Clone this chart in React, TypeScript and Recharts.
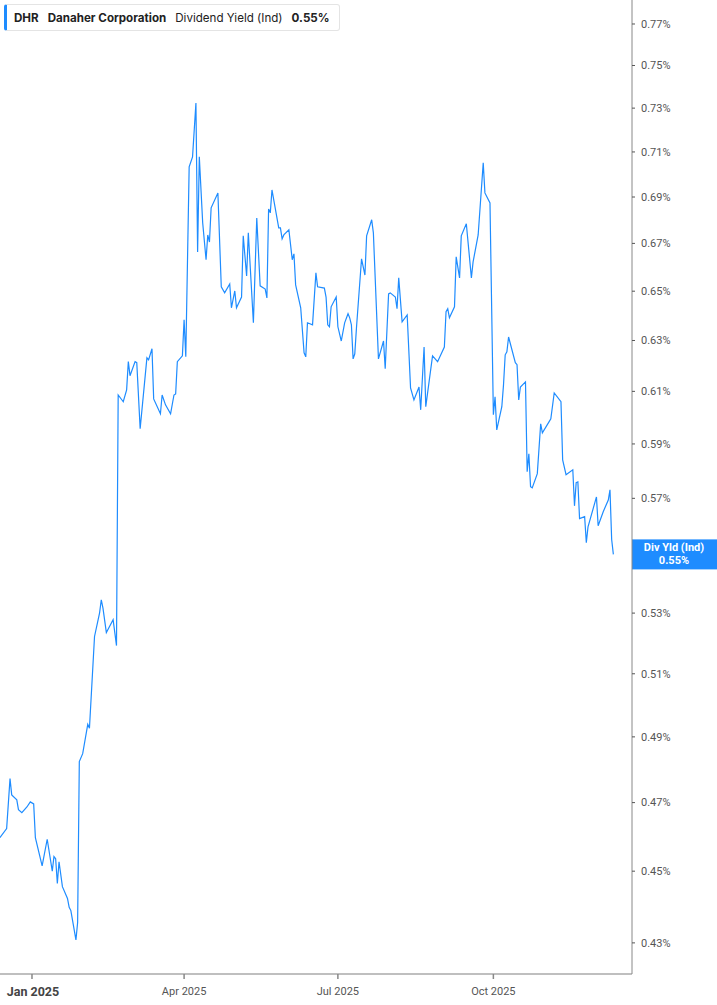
import { Line, LineChart, ReferenceLine, XAxis, YAxis } from 'recharts';

// DHR dividend yield (ind), %
const dates = [
    '2024-12-13', '2024-12-17', '2024-12-19', '2024-12-20', '2024-12-23', '2024-12-24', '2024-12-26', '2024-12-29', '2024-12-31',
    '2025-01-02', '2025-01-03', '2025-01-07', '2025-01-10', '2025-01-13', '2025-01-14', '2025-01-15', '2025-01-16', '2025-01-17',
    '2025-01-19', '2025-01-22', '2025-01-23', '2025-01-24', '2025-01-27', '2025-01-28', '2025-01-29', '2025-01-31',
    '2025-02-03', '2025-02-04', '2025-02-07', '2025-02-10', '2025-02-11', '2025-02-12', '2025-02-14', '2025-02-18', '2025-02-20',
    '2025-02-21', '2025-02-24', '2025-02-26', '2025-02-27', '2025-02-28',
    '2025-03-03', '2025-03-04', '2025-03-06', '2025-03-10', '2025-03-11', '2025-03-13', '2025-03-14', '2025-03-18', '2025-03-19',
    '2025-03-21', '2025-03-24', '2025-03-26', '2025-03-27', '2025-03-28', '2025-03-31',
    '2025-04-01', '2025-04-02', '2025-04-04', '2025-04-06', '2025-04-08', '2025-04-09', '2025-04-10', '2025-04-12', '2025-04-14',
    '2025-04-15', '2025-04-16', '2025-04-17', '2025-04-21', '2025-04-23', '2025-04-25', '2025-04-28', '2025-04-29',
    '2025-05-01', '2025-05-02', '2025-05-05', '2025-05-06', '2025-05-08', '2025-05-09', '2025-05-12', '2025-05-14', '2025-05-16',
    '2025-05-19', '2025-05-20', '2025-05-21', '2025-05-22', '2025-05-23', '2025-05-27', '2025-05-28', '2025-05-29', '2025-05-30',
    '2025-06-02', '2025-06-04', '2025-06-05', '2025-06-06', '2025-06-09', '2025-06-11', '2025-06-12', '2025-06-13', '2025-06-16',
    '2025-06-18', '2025-06-19', '2025-06-23', '2025-06-24', '2025-06-25', '2025-06-26', '2025-06-27', '2025-06-30',
    '2025-07-01', '2025-07-03', '2025-07-05', '2025-07-07', '2025-07-08', '2025-07-09', '2025-07-10', '2025-07-11', '2025-07-12',
    '2025-07-15', '2025-07-17', '2025-07-18', '2025-07-21', '2025-07-22', '2025-07-25', '2025-07-28', '2025-07-29', '2025-07-31',
    '2025-08-01', '2025-08-04', '2025-08-05', '2025-08-06', '2025-08-08', '2025-08-11', '2025-08-13', '2025-08-15', '2025-08-18',
    '2025-08-19', '2025-08-21', '2025-08-22', '2025-08-26', '2025-08-29',
    '2025-09-02', '2025-09-03', '2025-09-04', '2025-09-05', '2025-09-08', '2025-09-09', '2025-09-11', '2025-09-12', '2025-09-15',
    '2025-09-18', '2025-09-19', '2025-09-22', '2025-09-25', '2025-09-26', '2025-09-29',
    '2025-10-01', '2025-10-02', '2025-10-03', '2025-10-06', '2025-10-07', '2025-10-08', '2025-10-09', '2025-10-10', '2025-10-14',
    '2025-10-15', '2025-10-16', '2025-10-17', '2025-10-20', '2025-10-21', '2025-10-22', '2025-10-23', '2025-10-24', '2025-10-27',
    '2025-10-29', '2025-10-30',
    '2025-11-03', '2025-11-04', '2025-11-06', '2025-11-10', '2025-11-11', '2025-11-13', '2025-11-17', '2025-11-18', '2025-11-19',
    '2025-11-20', '2025-11-21', '2025-11-24', '2025-11-25', '2025-11-26',
    '2025-12-01', '2025-12-02', '2025-12-05', '2025-12-08', '2025-12-09', '2025-12-10', '2025-12-11',
];

const yields = [
    0.4597, 0.4623, 0.4772, 0.4723, 0.4708, 0.4679, 0.467, 0.4687, 0.4702,
    0.4696, 0.4597, 0.4515, 0.4592, 0.45, 0.4542, 0.4536, 0.4465, 0.4527,
    0.4456, 0.4423, 0.4398, 0.4389, 0.4308, 0.4356, 0.4824, 0.4848,
    0.4939, 0.4927, 0.5222, 0.5301, 0.5345, 0.5317, 0.5235, 0.5278, 0.5192,
    0.6086, 0.606, 0.6106, 0.6216, 0.6161,
    0.6216, 0.6212, 0.5957, 0.6231, 0.6223, 0.6267, 0.6071, 0.6014, 0.6086,
    0.6048, 0.6014, 0.6086, 0.609, 0.6216, 0.6239,
    0.6383, 0.6235, 0.7033, 0.7078, 0.7324, 0.6664, 0.7078, 0.6788, 0.6631,
    0.6736, 0.6706, 0.6853, 0.6918, 0.6518, 0.6493, 0.653, 0.6432,
    0.6501, 0.6432, 0.6476, 0.6732, 0.6563, 0.6745, 0.6371, 0.6809, 0.6522,
    0.6509, 0.6472, 0.6848, 0.6831, 0.6931, 0.6766, 0.6766, 0.6719, 0.6736,
    0.6758, 0.6631, 0.6656, 0.6526, 0.6432, 0.6251, 0.6235, 0.6371, 0.6363,
    0.6576, 0.6518, 0.6513, 0.6476, 0.6363, 0.6355, 0.6436, 0.6476,
    0.6355, 0.6298, 0.6371, 0.6408, 0.6391, 0.6363, 0.6227, 0.6247, 0.6351,
    0.6635, 0.6567, 0.6732, 0.6801, 0.6745, 0.6227, 0.6298, 0.6188, 0.6489,
    0.6493, 0.6476, 0.6428, 0.6555, 0.6375, 0.6403, 0.6113, 0.6067, 0.6117,
    0.6029, 0.6274, 0.6041, 0.6239, 0.6216,
    0.6274, 0.6416, 0.6428, 0.6391, 0.6436, 0.6643, 0.6555, 0.6732, 0.6784,
    0.6555, 0.6622, 0.6736, 0.7051, 0.6918, 0.6874,
    0.601, 0.6079, 0.5953, 0.6041, 0.6125, 0.6243, 0.6255, 0.6314, 0.6212,
    0.6204, 0.6067, 0.6117, 0.6137, 0.5797, 0.5863, 0.5742, 0.5738, 0.579,
    0.5976, 0.5942,
    0.5984, 0.5995, 0.6094, 0.606, 0.5841, 0.5786, 0.5804, 0.5673, 0.5757,
    0.576, 0.5627, 0.5634, 0.5542, 0.5598,
    0.5705, 0.5602, 0.5652, 0.5694, 0.5731, 0.5553, 0.5501,
];

const yTicks = [0.43, 0.45, 0.47, 0.49, 0.51, 0.53, 0.57, 0.59, 0.61, 0.63, 0.65, 0.67, 0.69, 0.71, 0.73, 0.75, 0.77];
const xTickDates = ['2025-01-01', '2025-04-01', '2025-07-01', '2025-10-01'];
const monthNames = ['Jan', 'Feb', 'Mar', 'Apr', 'May', 'Jun', 'Jul', 'Aug', 'Sep', 'Oct', 'Nov', 'Dec'];

const DAY = 86400000;
const BLUE = '#1e8cff';
const jan1 = Date.parse('2025-01-01');
const xTicks = xTickDates.map((d) => Date.parse(d));
// x domain chosen so Jan 1 lands where the reference has it
const xDomain = [jan1 - 18.93 * DAY, jan1 + 355.03 * DAY];

const data = dates.map((d, i) => ({ t: Date.parse(d), v: yields[i] }));
const last = yields[yields.length - 1];

const XTick = ({ x, y, payload }: any) => {
    const d = new Date(payload.value);
    const isJan = d.getUTCMonth() === 0;
    return (
        <text
            x={isJan ? x + 1 : x}
            y={y}
            dy="0.71em"
            textAnchor="middle"
            fontFamily="Roboto, sans-serif"
            fontSize={isJan ? 12.5 : 11}
            fontWeight={isJan ? 700 : 400}
            fill={isJan ? '#444' : '#555'}
        >
            {monthNames[d.getUTCMonth()]} {d.getUTCFullYear()}
        </text>
    );
};

const PriceTag = ({ viewBox }: any) => {
    if (!viewBox) return null;
    const x = viewBox.x + viewBox.width;
    const y = viewBox.y;
    return (
        <g>
            <rect x={x} y={y - 15} width={85} height={30} fill={BLUE} />
            <text x={x + 42} y={y - 3} textAnchor="middle" fontFamily="Roboto, sans-serif" fontSize={11} fontWeight={700} fill="#fff">
                Div Yld (Ind)
            </text>
            <text x={x + 42} y={y + 10} textAnchor="middle" fontFamily="Roboto, sans-serif" fontSize={11} fontWeight={700} fill="#fff">
                {last.toFixed(2)}%
            </text>
        </g>
    );
};

export default function App() {
    return (
        <div style={{ position: 'absolute', left: 0, top: 0, width: 717, height: 1005, background: '#fff' }}>
            <LineChart width={717} height={1005} data={data} margin={{ top: 0, right: 0, bottom: 0, left: 0 }}>
                <XAxis
                    dataKey="t"
                    type="number"
                    scale="time"
                    domain={xDomain}
                    ticks={xTicks}
                    interval={0}
                    allowDataOverflow
                    height={31}
                    tick={<XTick />}
                    tickSize={5}
                    tickMargin={8}
                    stroke="#aaa"
                    strokeWidth={1.5}
                    tickLine={{ stroke: '#888' }}
                />
                <YAxis
                    orientation="right"
                    type="number"
                    scale="log"
                    domain={[0.4216, 0.7818]}
                    allowDataOverflow
                    ticks={yTicks}
                    interval={0}
                    width={85}
                    tickSize={3}
                    tickMargin={6}
                    stroke="#888"
                    tickLine={{ stroke: '#555' }}
                    tick={{ fontFamily: 'Roboto, sans-serif', fontSize: 11, fill: '#555' }}
                    tickFormatter={(v: number) => `${v.toFixed(2)}%`}
                />
                <ReferenceLine y={last} stroke="none" ifOverflow="visible" label={<PriceTag />} />
                <Line type="linear" dataKey="v" stroke={BLUE} strokeWidth={1.2} dot={false} isAnimationActive={false} />
            </LineChart>
            <div
                style={{
                    position: 'absolute',
                    left: 4,
                    top: 4,
                    height: 25,
                    display: 'flex',
                    alignItems: 'center',
                    gap: 9,
                    padding: '0 10px 0 7px',
                    background: '#fff',
                    border: '1px solid #e4e4e4',
                    borderLeft: `3px solid ${BLUE}`,
                    borderRadius: 3,
                    fontFamily: 'Inter, sans-serif',
                    fontSize: 11.6,
                    color: '#222',
                    whiteSpace: 'nowrap',
                }}
            >
                <span style={{ fontWeight: 700 }}>DHR</span>
                <span style={{ fontWeight: 700 }}>Danaher Corporation</span>
                <span>Dividend Yield (Ind)</span>
                <span style={{ fontWeight: 700 }}>0.55%</span>
            </div>
        </div>
    );
}
